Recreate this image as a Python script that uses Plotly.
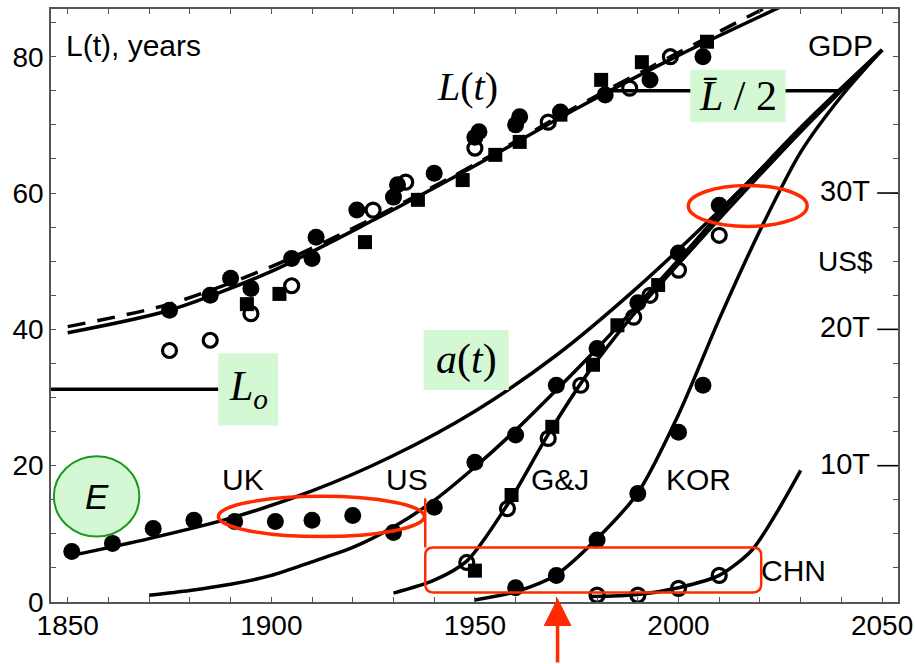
import plotly.graph_objects as go

# ---------------- data ----------------
# Life-span data L(t) (three data sets)
L_fill_years = [1875, 1885, 1890, 1895, 1905, 1910, 1911, 1921, 1930, 1931, 1940, 1950, 1951, 1960, 1961, 1971, 1982, 1993, 2006]
L_fill_vals  = [42.8, 45.0, 47.5, 46.0, 50.4, 50.4, 53.5, 57.5, 59.4, 61.2, 62.9, 68.2, 69.0, 70.0, 71.2, 71.9, 74.4, 76.6, 80.0]
L_open_years = [1875, 1885, 1895, 1905, 1925, 1933, 1950, 1968, 1988, 1998]
L_open_vals  = [36.9, 38.4, 42.3, 46.4, 57.5, 61.6, 66.6, 70.4, 75.4, 80.0]
L_sq_years   = [1894, 1902, 1923, 1936, 1947, 1955, 1961, 1971, 1981, 1991, 2007]
L_sq_vals    = [43.7, 45.2, 52.8, 59.0, 61.9, 65.6, 67.5, 71.5, 76.6, 79.2, 82.2]

# Fitted L(t) curves
Lfit_years   = [1850, 1875, 1900, 1925, 1950, 1975, 2000, 2025]
Lfit_solid   = [39.5, 42.8, 48.5, 56.0, 64.0, 72.4, 80.2, 87.3]
Lfit_dashed  = [40.4, 43.7, 49.2, 56.3, 64.2, 72.7, 80.6, 88.3]

# GDP data (right axis scale: 10T US$ per 20 units)
UK_years  = [1851, 1861, 1871, 1881, 1891, 1901, 1910, 1920]
UK_vals   = [7.4, 8.6, 10.8, 12.0, 11.8, 11.8, 12.0, 12.7]
US_years  = [1930, 1940, 1950, 1960, 1970, 1980, 1990, 2000, 2010]
US_vals   = [10.2, 13.9, 20.5, 24.5, 31.8, 37.2, 43.9, 51.2, 58.2]
GJ_open_years = [1948, 1958, 1968, 1976, 1989, 1993, 2000, 2010]
GJ_open_vals  = [5.8, 13.7, 24.0, 31.8, 41.8, 45.0, 48.7, 53.8]
GJ_sq_years   = [1950, 1959, 1969, 1979, 1985, 1995]
GJ_sq_vals    = [4.6, 15.7, 25.7, 34.8, 40.6, 46.5]
KOR_years = [1960, 1970, 1980, 1990, 2000, 2006]
KOR_vals  = [2.1, 3.9, 9.1, 15.9, 24.9, 31.8]
CHN_years = [1980, 1990, 2000, 2010]
CHN_vals  = [1.0, 1.0, 2.0, 3.9]

# Fitted GDP curves
UKfit_years  = [1850, 1870, 1890, 1910, 1930, 1950, 1970, 1990, 2010, 2030, 2050]
UKfit_vals   = [6.7, 9.3, 12.3, 16.3, 21.5, 28.0, 36.2, 46.2, 57.4, 69.3, 81.0]
USfit_years  = [1870, 1880, 1890, 1900, 1910, 1920, 1930, 1940, 1950, 1960, 1970, 1980, 1990, 2000, 2010, 2030, 2050]
USfit_vals   = [1.0, 1.7, 2.6, 3.9, 5.9, 8.0, 11.0, 14.9, 19.8, 25.2, 31.1, 37.2, 43.6, 50.2, 56.9, 69.6, 81.0]
GJfit_years  = [1930, 1940, 1948, 1958, 1968, 1978, 1988, 2000, 2010, 2030, 2050]
GJfit_vals   = [1.3, 3.2, 6.0, 14.3, 24.6, 33.8, 41.5, 49.6, 56.2, 69.0, 81.0]
KORfit_years = [1950, 1960, 1970, 1980, 1990, 2000, 2010, 2020, 2030, 2040, 2050]
KORfit_vals  = [0.3, 1.5, 4.0, 9.3, 16.0, 27.5, 41.5, 54.5, 66.0, 74.2, 81.0]
CHNfit_years = [1978, 1990, 2000, 2010, 2018, 2024, 2030]
CHNfit_vals  = [0.8, 1.1, 2.1, 3.9, 7.6, 13.0, 19.3]

# Reference levels
L0_level = 31.2
Lbar_half = 75.0

# Axis ticks
x_ticks = list(range(1850, 2051, 10))
x_labels = [str(v) if v % 50 == 0 else "" for v in x_ticks]
y_ticks = list(range(0, 86, 5))
y_labels = [str(v) if v % 20 == 0 else "" for v in y_ticks]
right_vals = [20, 40, 60]
right_labels = ["10T", "20T", "30T"]

# ---------------- figure ----------------
BLACK = "black"
RED = "#ff2a00"
GREEN_FILL = "#d4f8d4"
SANS = "Liberation Sans"
SERIF = "Liberation Serif"
LW = 3.5

fig = go.Figure()

def curve(xs, ys, dash="solid"):
    fig.add_trace(go.Scatter(x=xs, y=ys, mode="lines", line=dict(color=BLACK, width=LW, dash=dash, shape="spline", smoothing=0.8),
                             hoverinfo="skip", showlegend=False))

def pts(xs, ys, kind):
    if kind == "fill":
        m = dict(symbol="circle", size=17, color=BLACK)
    elif kind == "open":
        m = dict(symbol="circle-open", size=14, color=BLACK, line=dict(width=3.2, color=BLACK))
    else:
        m = dict(symbol="square", size=14, color=BLACK)
    fig.add_trace(go.Scatter(x=xs, y=ys, mode="markers", marker=m, showlegend=False, hoverinfo="skip"))

curve(Lfit_years, Lfit_dashed, dash="18px,12px")
curve(Lfit_years, Lfit_solid)
curve(UKfit_years, UKfit_vals)
curve(USfit_years, USfit_vals)
curve(GJfit_years, GJfit_vals)
curve(KORfit_years, KORfit_vals)
curve(CHNfit_years, CHNfit_vals)

pts(L_sq_years, L_sq_vals, "sq")
pts(L_open_years, L_open_vals, "open")
pts(L_fill_years, L_fill_vals, "fill")
pts(UK_years, UK_vals, "fill")
pts(US_years, US_vals, "fill")
pts(GJ_sq_years, GJ_sq_vals, "sq")
pts(GJ_open_years, GJ_open_vals, "open")
pts(KOR_years, KOR_vals, "fill")
pts(CHN_years, CHN_vals, "open")

shapes = []
# reference lines
shapes.append(dict(type="line", xref="x", yref="y", x0=1845.9, x1=1887.0, y0=L0_level, y1=L0_level, line=dict(color=BLACK, width=LW)))
shapes.append(dict(type="line", xref="x", yref="y", x0=1981.5, x1=2039.8, y0=Lbar_half, y1=Lbar_half, line=dict(color=BLACK, width=LW)))
# right-side major tick dashes
for v in right_vals:
    shapes.append(dict(type="line", xref="x", yref="y", x0=2048.8, x1=2053.9, y0=v, y1=v, line=dict(color=BLACK, width=1.6)))
# green label boxes
for (x0, x1, y0, y1) in [(2002.9, 2026.3, 70.4, 78.1), (1937.4, 1958.3, 31.1, 39.9), (1887.0, 1901.7, 25.9, 36.5)]:
    shapes.append(dict(type="rect", xref="x", yref="y", x0=x0, x1=x1, y0=y0, y1=y1, fillcolor=GREEN_FILL, line=dict(width=0), layer="above"))
# E circle
shapes.append(dict(type="circle", xref="x", yref="y", x0=1846.6, x1=1867.6, y0=9.6, y1=21.4, fillcolor=GREEN_FILL, line=dict(color="#1a9a1a", width=2), layer="above"))
# red ellipses
shapes.append(dict(type="circle", xref="x", yref="y", x0=1887.0, x1=1937.6, y0=9.6, y1=15.5, line=dict(color=RED, width=3.5), layer="above"))
shapes.append(dict(type="circle", xref="x", yref="y", x0=2002.4, x1=2031.6, y0=55.1, y1=61.1, line=dict(color=RED, width=3.5), layer="above"))
# red rounded rectangle + vertical marker
rx0, rx1, ry0, ry1, cx, cy = 1937.8, 2020.3, 1.4, 8.0, 2.0, 1.2
path = (f"M {rx0+cx},{ry1} L {rx1-cx},{ry1} Q {rx1},{ry1} {rx1},{ry1-cy} L {rx1},{ry0+cy} "
        f"Q {rx1},{ry0} {rx1-cx},{ry0} L {rx0+cx},{ry0} Q {rx0},{ry0} {rx0},{ry0+cy} "
        f"L {rx0},{ry1-cy} Q {rx0},{ry1} {rx0+cx},{ry1} Z")
shapes.append(dict(type="path", xref="x", yref="y", path=path, line=dict(color=RED, width=2.5), layer="above"))
shapes.append(dict(type="line", xref="x", yref="y", x0=1937.8, x1=1937.8, y0=8.0, y1=15.2, line=dict(color=RED, width=2.5), layer="above"))

ann = []
def txt(x, y, s, size=29, font=SANS, xanchor="center", yanchor="middle"):
    ann.append(dict(x=x, y=y, xref="x", yref="y", text=s, showarrow=False, xanchor=xanchor, yanchor=yanchor,
                    font=dict(family=font, size=size, color=BLACK)))

txt(1849.0, 81.7, "L(t), years", size=30, xanchor="left")
txt(1948.2, 75.6, "<i>L</i>(<i>t</i>)", size=40, font=SERIF)
txt(2014.6, 74.3, "<i>L\u0304</i> / 2", size=42, font=SERIF)
txt(1947.9, 35.6, "<i>a</i>(<i>t</i>)", size=42, font=SERIF)
txt(1894.4, 31.3, "<i>L<sub>o</sub></i>", size=42, font=SERIF)
txt(1857.1, 15.5, "<i>E</i>", size=35)
txt(1893.1, 17.9, "UK", size=30)
txt(1933.4, 17.9, "US", size=30)
txt(1971.0, 17.9, "G&J", size=30)
txt(2004.9, 17.9, "KOR", size=30)
txt(2028.3, 4.6, "CHN", size=30)
txt(2039.9, 81.6, "GDP", size=30)
txt(2040.9, 49.9, "US$", size=28)
for v, lab in zip(right_vals, right_labels):
    txt(2047.6, v + 0.3, lab, size=29, xanchor="right")

# red arrow below the highlighted box
ann.append(dict(x=1970.3, y=0.6, xref="x", yref="y", ax=0, ay=72, text="", showarrow=True,
                arrowhead=2, arrowsize=1.6, arrowwidth=3.5, arrowcolor=RED))

fig.update_layout(
    width=915, height=664,
    margin=dict(l=51, r=17, t=9, b=62),
    plot_bgcolor="white", paper_bgcolor="white",
    shapes=shapes, annotations=ann,
    xaxis=dict(range=[1845.9, 2053.9], tickvals=x_ticks, ticktext=x_labels, ticks="inside", ticklen=5,
               tickcolor="#555", showline=True, linecolor="#555", linewidth=1.5, mirror="ticks",
               showgrid=False, zeroline=False, automargin=False, ticklabelstandoff=-2,
               tickfont=dict(family=SANS, size=28, color=BLACK)),
    yaxis=dict(range=[0, 87], tickvals=y_ticks, ticktext=y_labels, ticks="inside", ticklen=5,
               tickcolor="#555", showline=True, linecolor="#555", linewidth=1.5, mirror="ticks",
               showgrid=False, zeroline=False, automargin=False, tickfont=dict(family=SANS, size=28, color=BLACK)),
)

fig.write_html("out.html", config={"displayModeBar": False},
               post_script="document.body.style.margin='0px'; document.body.style.overflow='hidden';")
